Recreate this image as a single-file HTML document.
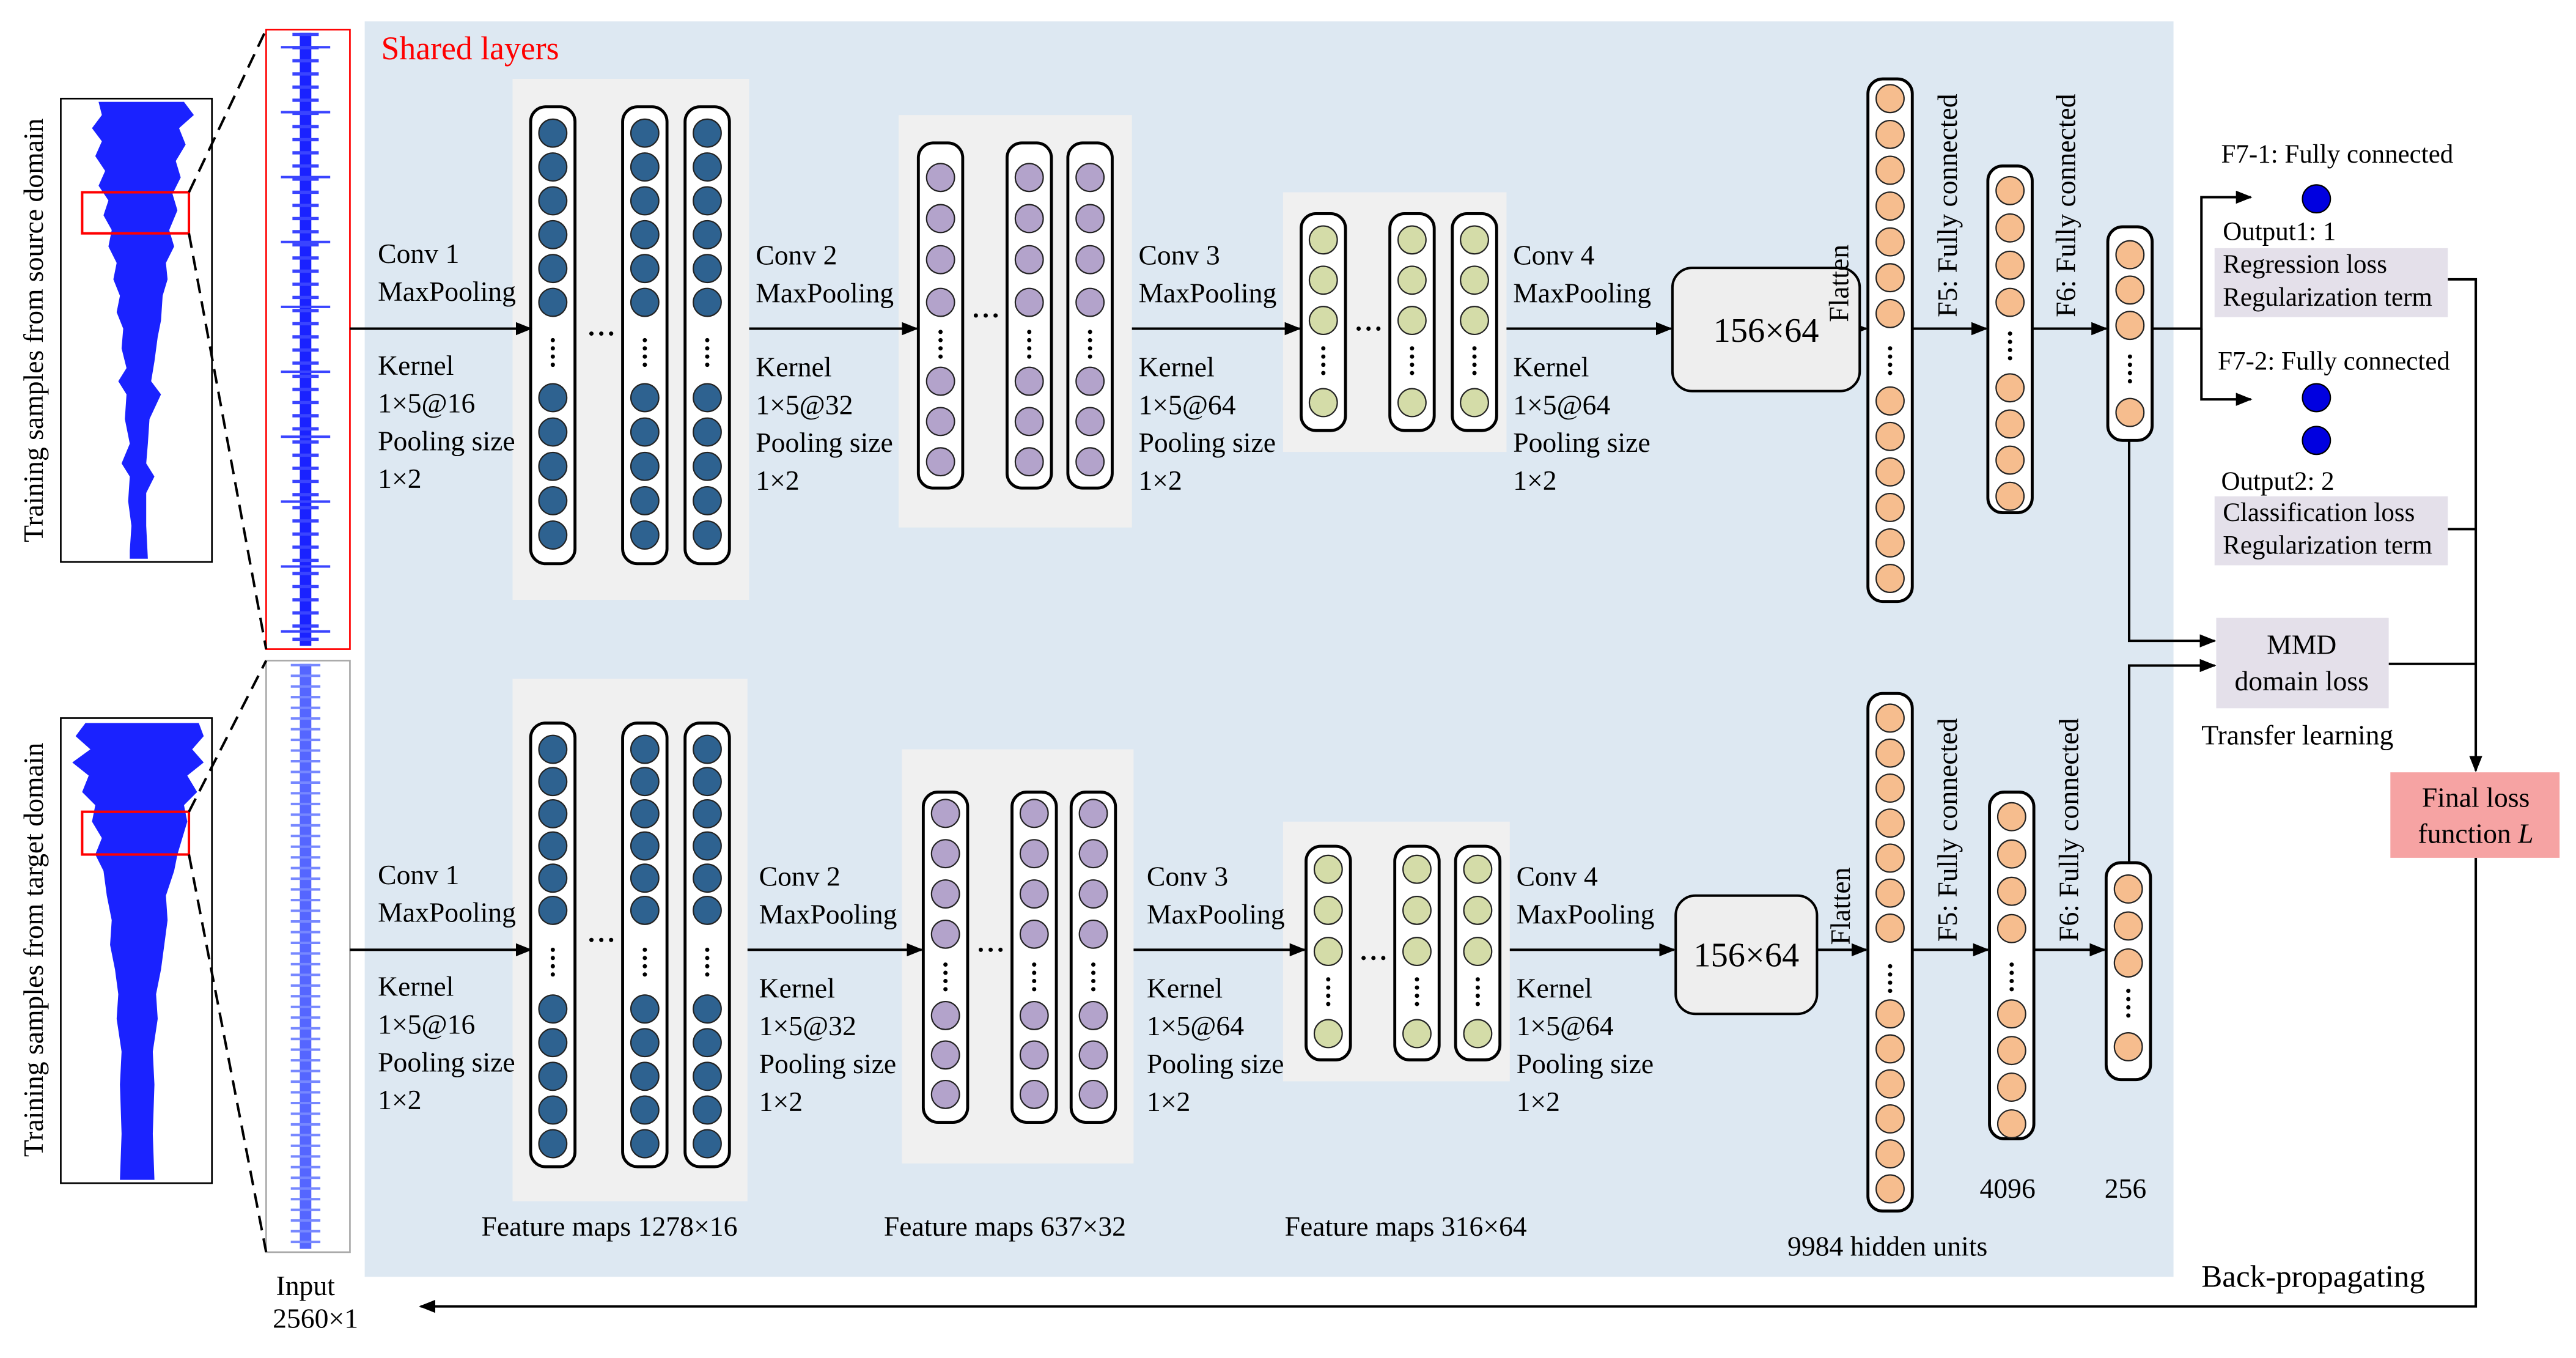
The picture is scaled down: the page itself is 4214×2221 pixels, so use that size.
<!DOCTYPE html>
<html><head><meta charset="utf-8"><style>
html,body{margin:0;padding:0;background:#fff}
svg{display:block}
text{font-family:"Liberation Serif",serif;fill:#000}
</style></head><body>
<svg width="4214" height="2221" viewBox="0 0 1568 826.4" xmlns="http://www.w3.org/2000/svg">
<defs>
<marker id="a" markerWidth="10" markerHeight="8" refX="9" refY="4" orient="auto" markerUnits="userSpaceOnUse"><path d="M0,0 L10,4 L0,8 z" fill="#000"/></marker>
<g id="dots"><circle cx="13.5" cy="-8" r="1.3"/><circle cx="13.5" cy="-3" r="1.3"/><circle cx="13.5" cy="2" r="1.3"/><circle cx="13.5" cy="7" r="1.3"/></g>
<g id="t1"><rect x="0" y="65" width="27" height="278" rx="9" fill="#fff" stroke="#000" stroke-width="1.8"/>
<g fill="#2e6290" stroke="#222" stroke-width="0.8"><circle cx="13.5" cy="81" r="8.5"/><circle cx="13.5" cy="101.6" r="8.5"/><circle cx="13.5" cy="122.2" r="8.5"/><circle cx="13.5" cy="142.8" r="8.5"/><circle cx="13.5" cy="163.4" r="8.5"/><circle cx="13.5" cy="184" r="8.5"/><circle cx="13.5" cy="242" r="8.5"/><circle cx="13.5" cy="262.9" r="8.5"/><circle cx="13.5" cy="283.8" r="8.5"/><circle cx="13.5" cy="304.7" r="8.5"/><circle cx="13.5" cy="325.6" r="8.5"/></g>
<use href="#dots" y="215"/></g>
<g id="t2"><rect x="0" y="87" width="27" height="210" rx="9" fill="#fff" stroke="#000" stroke-width="1.8"/>
<g fill="#b3a3cb" stroke="#222" stroke-width="0.8"><circle cx="13.5" cy="108" r="8.5"/><circle cx="13.5" cy="133" r="8.5"/><circle cx="13.5" cy="158" r="8.5"/><circle cx="13.5" cy="184" r="8.5"/><circle cx="13.5" cy="232" r="8.5"/><circle cx="13.5" cy="256.5" r="8.5"/><circle cx="13.5" cy="281" r="8.5"/></g>
<use href="#dots" y="210"/></g>
<g id="t3"><rect x="0" y="130" width="27" height="132" rx="9" fill="#fff" stroke="#000" stroke-width="1.8"/>
<g fill="#d4dca8" stroke="#222" stroke-width="0.8"><circle cx="13.5" cy="146" r="8.5"/><circle cx="13.5" cy="170.5" r="8.5"/><circle cx="13.5" cy="195" r="8.5"/><circle cx="13.5" cy="245" r="8.5"/></g>
<use href="#dots" y="220"/></g>
<g id="b1"><rect x="0" y="440" width="27" height="270" rx="9" fill="#fff" stroke="#000" stroke-width="1.8"/>
<g fill="#2e6290" stroke="#222" stroke-width="0.8"><circle cx="13.5" cy="456" r="8.5"/><circle cx="13.5" cy="475.6" r="8.5"/><circle cx="13.5" cy="495.2" r="8.5"/><circle cx="13.5" cy="514.8" r="8.5"/><circle cx="13.5" cy="534.4" r="8.5"/><circle cx="13.5" cy="554" r="8.5"/><circle cx="13.5" cy="614" r="8.5"/><circle cx="13.5" cy="634.5" r="8.5"/><circle cx="13.5" cy="655" r="8.5"/><circle cx="13.5" cy="675.5" r="8.5"/><circle cx="13.5" cy="696" r="8.5"/></g>
<use href="#dots" y="586"/></g>
<g id="b2"><rect x="0" y="482" width="27" height="201" rx="9" fill="#fff" stroke="#000" stroke-width="1.8"/>
<g fill="#b3a3cb" stroke="#222" stroke-width="0.8"><circle cx="13.5" cy="495" r="8.5"/><circle cx="13.5" cy="519.5" r="8.5"/><circle cx="13.5" cy="544" r="8.5"/><circle cx="13.5" cy="568.5" r="8.5"/><circle cx="13.5" cy="618" r="8.5"/><circle cx="13.5" cy="642" r="8.5"/><circle cx="13.5" cy="666" r="8.5"/></g>
<use href="#dots" y="595"/></g>
<g id="b3"><rect x="0" y="515" width="27" height="130" rx="9" fill="#fff" stroke="#000" stroke-width="1.8"/>
<g fill="#d4dca8" stroke="#222" stroke-width="0.8"><circle cx="13.5" cy="529" r="8.5"/><circle cx="13.5" cy="554" r="8.5"/><circle cx="13.5" cy="579" r="8.5"/><circle cx="13.5" cy="629" r="8.5"/></g>
<use href="#dots" y="604"/></g>
<g id="hd"><circle cx="-6" cy="0" r="1.3"/><circle cx="0" cy="0" r="1.3"/><circle cx="6" cy="0" r="1.3"/></g>
</defs>
<rect x="222" y="13" width="1101" height="764" fill="#dde8f2"/>
<text x="232" y="36" font-size="20" style="fill:#f00">Shared layers</text>
<rect x="312" y="48" width="144" height="317" fill="#f0f0f0"/>
<rect x="547" y="70" width="142" height="251" fill="#f0f0f0"/>
<rect x="781" y="117" width="136" height="158" fill="#f0f0f0"/>
<rect x="312" y="413" width="143" height="318" fill="#f0f0f0"/>
<rect x="549" y="456" width="141" height="252" fill="#f0f0f0"/>
<rect x="781" y="500" width="138" height="158" fill="#f0f0f0"/>
<use href="#t1" x="323"/><use href="#t1" x="379"/><use href="#t1" x="417"/>
<use href="#t2" x="559"/><use href="#t2" x="613"/><use href="#t2" x="650"/>
<use href="#t3" x="792"/><use href="#t3" x="846"/><use href="#t3" x="884"/>
<use href="#b1" x="323"/><use href="#b1" x="379"/><use href="#b1" x="417"/>
<use href="#b2" x="562"/><use href="#b2" x="616"/><use href="#b2" x="652"/>
<use href="#b3" x="795"/><use href="#b3" x="849"/><use href="#b3" x="886"/>
<use href="#hd" x="366" y="203"/><use href="#hd" x="600" y="192"/><use href="#hd" x="833" y="200"/>
<use href="#hd" x="366" y="572"/><use href="#hd" x="603" y="578"/><use href="#hd" x="836" y="583"/>
<g stroke="#000" stroke-width="1.8" fill="#fff">
<rect x="1137" y="48" width="27" height="318" rx="9"/><rect x="1210" y="101" width="27" height="211" rx="9"/><rect x="1283" y="138" width="27" height="130" rx="9"/>
<rect x="1137" y="422" width="27" height="315" rx="9"/><rect x="1211" y="482" width="27" height="211" rx="9"/><rect x="1282" y="525" width="27" height="132" rx="9"/>
</g>
<g fill="#f6bd8e" stroke="#222" stroke-width="0.8">
<circle cx="1150.5" cy="60" r="8.5"/><circle cx="1150.5" cy="81.8" r="8.5"/><circle cx="1150.5" cy="103.6" r="8.5"/><circle cx="1150.5" cy="125.4" r="8.5"/><circle cx="1150.5" cy="147.2" r="8.5"/><circle cx="1150.5" cy="169" r="8.5"/><circle cx="1150.5" cy="190.8" r="8.5"/><circle cx="1150.5" cy="244" r="8.5"/><circle cx="1150.5" cy="265.6" r="8.5"/><circle cx="1150.5" cy="287.2" r="8.5"/><circle cx="1150.5" cy="308.8" r="8.5"/><circle cx="1150.5" cy="330.4" r="8.5"/><circle cx="1150.5" cy="352" r="8.5"/>
<circle cx="1223.5" cy="116" r="8.5"/><circle cx="1223.5" cy="138.7" r="8.5"/><circle cx="1223.5" cy="161.4" r="8.5"/><circle cx="1223.5" cy="184" r="8.5"/><circle cx="1223.5" cy="236" r="8.5"/><circle cx="1223.5" cy="258" r="8.5"/><circle cx="1223.5" cy="280" r="8.5"/><circle cx="1223.5" cy="302" r="8.5"/>
<circle cx="1296.5" cy="155" r="8.5"/><circle cx="1296.5" cy="176.5" r="8.5"/><circle cx="1296.5" cy="198" r="8.5"/><circle cx="1296.5" cy="251" r="8.5"/>
<circle cx="1150.5" cy="437" r="8.5"/><circle cx="1150.5" cy="458.3" r="8.5"/><circle cx="1150.5" cy="479.6" r="8.5"/><circle cx="1150.5" cy="500.9" r="8.5"/><circle cx="1150.5" cy="522.2" r="8.5"/><circle cx="1150.5" cy="543.5" r="8.5"/><circle cx="1150.5" cy="564.8" r="8.5"/><circle cx="1150.5" cy="617" r="8.5"/><circle cx="1150.5" cy="638.3" r="8.5"/><circle cx="1150.5" cy="659.6" r="8.5"/><circle cx="1150.5" cy="680.9" r="8.5"/><circle cx="1150.5" cy="702.2" r="8.5"/><circle cx="1150.5" cy="723.5" r="8.5"/>
<circle cx="1224.5" cy="497" r="8.5"/><circle cx="1224.5" cy="519.7" r="8.5"/><circle cx="1224.5" cy="542.4" r="8.5"/><circle cx="1224.5" cy="565.1" r="8.5"/><circle cx="1224.5" cy="617" r="8.5"/><circle cx="1224.5" cy="639.3" r="8.5"/><circle cx="1224.5" cy="661.6" r="8.5"/><circle cx="1224.5" cy="683.9" r="8.5"/>
<circle cx="1295.5" cy="541" r="8.5"/><circle cx="1295.5" cy="563.5" r="8.5"/><circle cx="1295.5" cy="586" r="8.5"/><circle cx="1295.5" cy="637" r="8.5"/>
</g>
<use href="#dots" x="1137" y="220"/><use href="#dots" x="1210" y="211"/><use href="#dots" x="1283" y="225"/>
<use href="#dots" x="1137" y="596"/><use href="#dots" x="1211" y="595"/><use href="#dots" x="1282" y="611"/>
<rect x="37" y="60" width="92" height="282" fill="#fff" stroke="#000" stroke-width="1"/>
<rect x="37" y="437" width="92" height="283" fill="#fff" stroke="#000" stroke-width="1"/>
<rect x="162" y="18" width="51" height="377" fill="#fff" stroke="#f00" stroke-width="1"/>
<rect x="162" y="402" width="51" height="360" fill="#fff" stroke="#aaa" stroke-width="1"/>
<polygon fill="#1a22ff" points="60,62 62,70 56,78 62,86 58,95 64,104 60,113 66,122 63,131 68,140 66,150 71,160 69,170 73,180 71,190 75,200 74,212 77,224 72,232 77,240 76,255 79,270 74,282 79,290 78,305 80,320 79,335 79,340 90,340 89,320 89,300 94,290 89,282 90,270 91,255 98,240 92,232 94,220 96,205 98,195 99,180 102,170 101,160 106,150 103,140 108,128 105,118 110,108 107,98 113,88 109,78 118,70 112,62"/>
<polygon fill="#1a22ff" points="52,440 46,448 55,456 44,464 54,472 50,482 58,490 56,500 62,510 58,520 63,530 65,545 68,560 67,575 70,590 72,605 71,620 74,640 73,660 74,690 73,718 94,718 93,690 94,660 93,640 96,620 95,605 98,590 100,575 102,560 101,545 106,530 108,520 111,510 114,500 112,490 120,482 114,472 124,464 117,456 124,448 121,440"/>
<line x1="186" y1="20" x2="186" y2="393" stroke="#1a22ff" stroke-width="7"/>
<line x1="186" y1="20" x2="186" y2="393" stroke="#3a44ff" stroke-width="16" stroke-dasharray="2,6"/>
<line x1="186" y1="28" x2="186" y2="393" stroke="#3a44ff" stroke-width="30" stroke-dasharray="1.5,38"/>
<line x1="186" y1="404" x2="186" y2="760" stroke="#5566ff" stroke-width="7"/>
<line x1="186" y1="404" x2="186" y2="760" stroke="#7788ff" stroke-width="18" stroke-dasharray="1.5,5"/>
<rect x="50" y="117" width="65" height="25" fill="none" stroke="#f00" stroke-width="1.5"/>
<rect x="50" y="494" width="65" height="26" fill="none" stroke="#f00" stroke-width="1.5"/>
<g stroke="#000" stroke-width="1.5" stroke-dasharray="9,5" fill="none">
<line x1="115" y1="117" x2="162" y2="18"/><line x1="115" y1="142" x2="162" y2="395"/>
<line x1="115" y1="494" x2="162" y2="402"/><line x1="115" y1="520" x2="162" y2="762"/>
</g>
<text transform="translate(26,201) rotate(-90)" font-size="17" text-anchor="middle">Training samples from source domain</text>
<text transform="translate(26,578) rotate(-90)" font-size="17" text-anchor="middle">Training samples from target domain</text>
<text x="168" y="788" font-size="17">Input</text>
<text x="166" y="808" font-size="17">2560×1</text>
<g stroke="#000" stroke-width="1.5" fill="none" marker-end="url(#a)">
<line x1="213" y1="200" x2="323" y2="200"/><line x1="456" y1="200" x2="558" y2="200"/>
<line x1="689" y1="200" x2="791" y2="200"/><line x1="917" y1="200" x2="1017" y2="200"/>
<line x1="1132" y1="200" x2="1136" y2="200"/><line x1="1164" y1="200" x2="1209" y2="200"/>
<line x1="1237" y1="200" x2="1282" y2="200"/>
<line x1="213" y1="578" x2="323" y2="578"/><line x1="455" y1="578" x2="561" y2="578"/>
<line x1="690" y1="578" x2="794" y2="578"/><line x1="919" y1="578" x2="1019" y2="578"/>
<line x1="1106" y1="578" x2="1136" y2="578"/><line x1="1164" y1="578" x2="1210" y2="578"/>
<line x1="1238" y1="578" x2="1281" y2="578"/>
<polyline points="1310,200 1340,200 1340,120 1370,120"/>
<polyline points="1340,200 1340,243 1370,243"/>
<polyline points="1296,268 1296,390 1348,390"/>
<polyline points="1296,525 1296,405 1348,405"/>
<polyline points="1490,170 1507,170 1507,469"/>
<polyline points="1507,522 1507,795 256,795"/>
</g>
<g stroke="#000" stroke-width="1.5"><line x1="1490" y1="322" x2="1507" y2="322"/><line x1="1454" y1="404" x2="1507" y2="404"/></g>
<rect x="1018" y="163" width="114" height="75" rx="12" fill="#eee" stroke="#000" stroke-width="1.5"/>
<text x="1075" y="208" font-size="21" text-anchor="middle">156×64</text>
<rect x="1020" y="545" width="86" height="72" rx="12" fill="#eee" stroke="#000" stroke-width="1.5"/>
<text x="1063" y="588" font-size="21" text-anchor="middle">156×64</text>
<g font-size="17">
<text x="230" y="160">Conv 1</text><text x="230" y="183">MaxPooling</text><text x="230" y="228">Kernel</text><text x="230" y="251">1×5@16</text><text x="230" y="274">Pooling size</text><text x="230" y="297">1×2</text>
<text x="460" y="161">Conv 2</text><text x="460" y="184">MaxPooling</text><text x="460" y="229">Kernel</text><text x="460" y="252">1×5@32</text><text x="460" y="275">Pooling size</text><text x="460" y="298">1×2</text>
<text x="693" y="161">Conv 3</text><text x="693" y="184">MaxPooling</text><text x="693" y="229">Kernel</text><text x="693" y="252">1×5@64</text><text x="693" y="275">Pooling size</text><text x="693" y="298">1×2</text>
<text x="921" y="161">Conv 4</text><text x="921" y="184">MaxPooling</text><text x="921" y="229">Kernel</text><text x="921" y="252">1×5@64</text><text x="921" y="275">Pooling size</text><text x="921" y="298">1×2</text>
<text x="230" y="538">Conv 1</text><text x="230" y="561">MaxPooling</text><text x="230" y="606">Kernel</text><text x="230" y="629">1×5@16</text><text x="230" y="652">Pooling size</text><text x="230" y="675">1×2</text>
<text x="462" y="539">Conv 2</text><text x="462" y="562">MaxPooling</text><text x="462" y="607">Kernel</text><text x="462" y="630">1×5@32</text><text x="462" y="653">Pooling size</text><text x="462" y="676">1×2</text>
<text x="698" y="539">Conv 3</text><text x="698" y="562">MaxPooling</text><text x="698" y="607">Kernel</text><text x="698" y="630">1×5@64</text><text x="698" y="653">Pooling size</text><text x="698" y="676">1×2</text>
<text x="923" y="539">Conv 4</text><text x="923" y="562">MaxPooling</text><text x="923" y="607">Kernel</text><text x="923" y="630">1×5@64</text><text x="923" y="653">Pooling size</text><text x="923" y="676">1×2</text>
<text x="293" y="752">Feature maps 1278×16</text><text x="538" y="752">Feature maps 637×32</text><text x="782" y="752">Feature maps 316×64</text>
<text x="1088" y="764">9984 hidden units</text><text x="1205" y="729">4096</text><text x="1281" y="729">256</text>
<text transform="translate(1125,196) rotate(-90)">Flatten</text>
<text transform="translate(1191,193) rotate(-90)">F5: Fully connected</text>
<text transform="translate(1263,193) rotate(-90)">F6: Fully connected</text>
<text transform="translate(1126,575) rotate(-90)">Flatten</text>
<text transform="translate(1191,573) rotate(-90)">F5: Fully connected</text>
<text transform="translate(1265,573) rotate(-90)">F6: Fully connected</text>
<text x="1352" y="99" font-size="16">F7-1: Fully connected</text>
<text x="1353" y="146" font-size="16">Output1: 1</text>
<text x="1350" y="225" font-size="16">F7-2: Fully connected</text>
<text x="1352" y="298" font-size="16">Output2: 2</text>
<text x="1340" y="453">Transfer learning</text>
<text x="1340" y="783" font-size="19">Back-propagating</text>
</g>
<rect x="1348" y="151" width="142" height="42" fill="#e4e0ea"/>
<text x="1353" y="166" font-size="16">Regression loss</text><text x="1353" y="186" font-size="16">Regularization term</text>
<rect x="1348" y="302" width="142" height="42" fill="#e4e0ea"/>
<text x="1353" y="317" font-size="16">Classification loss</text><text x="1353" y="337" font-size="16">Regularization term</text>
<rect x="1349" y="376" width="105" height="55" fill="#e4e0ea"/>
<text x="1401" y="398" font-size="17" text-anchor="middle">MMD</text><text x="1401" y="420" font-size="17" text-anchor="middle">domain loss</text>
<rect x="1455" y="470" width="103" height="52" fill="#f6a3a3"/>
<text x="1507" y="491" font-size="17" text-anchor="middle">Final loss</text>
<text x="1507" y="513" font-size="17" text-anchor="middle">function <tspan font-style="italic">L</tspan></text>
<g fill="#0000e0" stroke="#000" stroke-width="0.8">
<circle cx="1410" cy="121" r="8.5"/><circle cx="1410" cy="242" r="8.5"/><circle cx="1410" cy="268" r="8.5"/>
</g>
</svg>
</body></html>
